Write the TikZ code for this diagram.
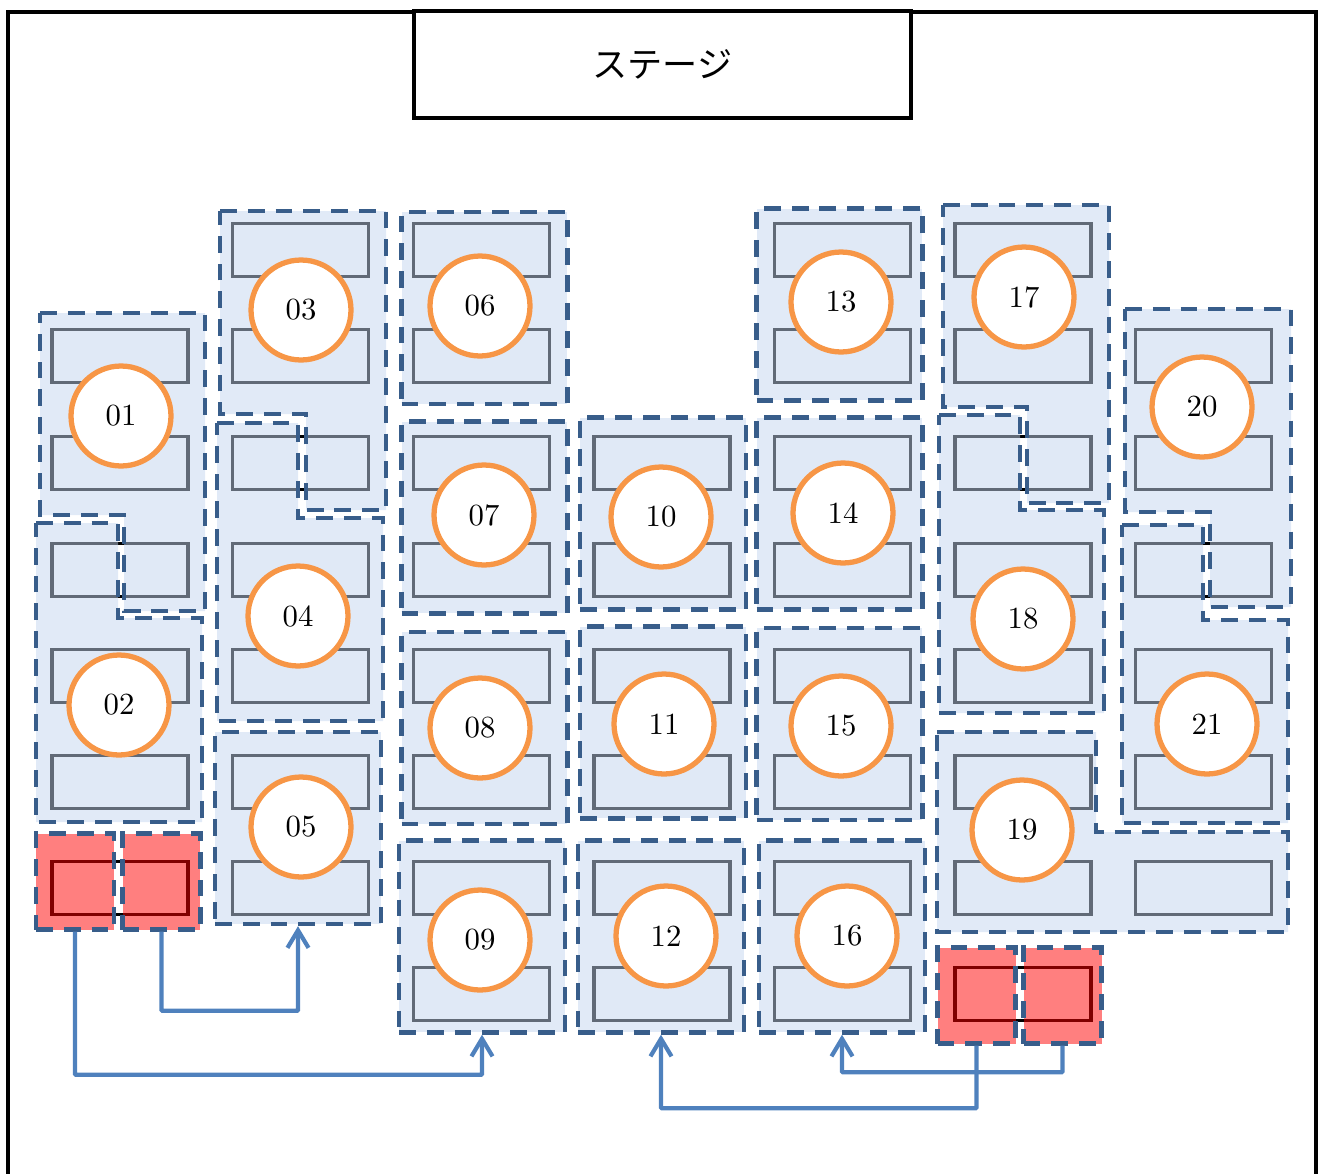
\documentclass[tikz,border=0pt]{standalone}
\usepackage{fontspec}
\newfontfamily\cjk{Noto Sans CJK JP}
\newfontfamily\seatfont[Scale=1.75]{lmroman10-regular.otf}
\usetikzlibrary{arrows.meta}

\definecolor{zoneblue}{HTML}{C3D5EF}
\definecolor{zoneline}{HTML}{385D8A}
\definecolor{ringorange}{HTML}{F79646}
\definecolor{linkblue}{HTML}{4F81BD}

\tikzset{
	seatbox/.style={rectangle, draw=black, fill=white, line width=1.8pt,
		minimum width=2.72cm, minimum height=1.05cm, inner sep=0pt},
	zone/.style={draw=zoneline, fill=zoneblue, fill opacity=.5, line width=2.5pt,
		dash pattern=on 9.6pt off 6.2pt},
	redzone/.style={zone, fill=red},
	zonebox/.style={rectangle, inner sep=0pt, minimum width=3.32cm, minimum height=3.84cm},
	redbox/.style={rectangle, inner sep=0pt, minimum width=1.56cm, minimum height=1.92cm},
	ring/.style={circle, draw=ringorange, fill=white, line width=3pt,
		minimum size=2cm, inner sep=0pt, font=\seatfont},
	stagebox/.style={rectangle, draw=black, fill=white, line width=1.9pt,
		minimum width=9.94cm, minimum height=2.14cm, inner sep=0pt,
		font=\fontsize{20}{24}\selectfont\cjk},
	link/.style={draw=linkblue, line width=2.4pt, rounded corners=.5pt,
		-{Straight Barb[length=10pt,width=12pt]}}
}

\begin{document}
\begin{tikzpicture}[x=0.02cm, y=-0.02cm]

\useasboundingbox (0,0) rectangle (1318,1173);

% frame and stage
\draw [line width=2.4pt] (8,1180) -- (8,12) -- (1316,12) -- (1316,1180);
\node [stagebox] (stage) at (662.5,64.5) {ステージ};

% seats, column by column
\foreach \c/\sx in {1/120, 7/1203.5}
	\foreach \sy in {356,463,570,676,782,888}
		\node [seatbox] (seat\c-\sy) at (\sx,\sy) {};
\foreach \sy in {250,356,463,570,676,782,888}
	\node [seatbox] (seat2-\sy) at (300.5,\sy) {};
\foreach \c/\sx in {3/481.5, 5/842.5, 6/1023}
	\foreach \sy in {250,356,463,570,676,782,888,994}
		\node [seatbox] (seat\c-\sy) at (\sx,\sy) {};
\foreach \sy in {463,570,676,782,888,994}
	\node [seatbox] (seat4-\sy) at (662,\sy) {};

% zones with a notch
\draw [zone] (40,313) -- (205,313) -- (205,611) -- (124,611) -- (124,515) -- (40,515) -- cycle;
\draw [zone] (36,523) -- (118,523) -- (118,618) -- (202,618) -- (202,822) -- (36,822) -- cycle;
\draw [zone] (220,211) -- (386,211) -- (386,510) -- (306,510) -- (306,414) -- (220,414) -- cycle;
\draw [zone] (217,423) -- (298,423) -- (298,518) -- (383,518) -- (383,721) -- (217,721) -- cycle;
\draw [zone] (943,205) -- (1109,205) -- (1109,503) -- (1027,503) -- (1027,407) -- (943,407) -- cycle;
\draw [zone] (939,415) -- (1020,415) -- (1020,510) -- (1104,510) -- (1104,713) -- (939,713) -- cycle;
\draw [zone] (1125,309) -- (1291,309) -- (1291,607) -- (1210,607) -- (1210,512) -- (1125,512) -- cycle;
\draw [zone] (1122,525) -- (1203,525) -- (1203,620) -- (1288,620) -- (1288,823) -- (1122,823) -- cycle;
\draw [zone] (937,732) -- (1096,732) -- (1096,832) -- (1288,832) -- (1288,932) -- (937,932) -- cycle;

% plain zones
\foreach \zn/\zx/\zy in {05/298/828, 06/484.5/308, 07/484.5/517.5, 08/484.5/728,
		09/482/936.5, 10/663/513.5, 11/663/722.5, 12/661/936.5, 13/839.5/304.5,
		14/839.5/513.5, 15/839.5/724, 16/842/936.5}
	\node [zone, zonebox] (zone\zn) at (\zx,\zy) {};

% red zones
\node [redzone, redbox] (redA) at (75,881.5) {};
\node [redzone, redbox] (redB) at (161.5,881.5) {};
\node [redzone, redbox] (redC) at (976.5,995.5) {};
\node [redzone, redbox] (redD) at (1062.5,995.5) {};

% numbered rings
\foreach \rn/\rx/\ry in {01/121/416, 02/119/705, 03/301/310, 04/298/616, 05/301/827,
		06/480/306, 07/484/515, 08/480/728, 09/480/940, 10/661/517, 11/664/724,
		12/666/936, 13/841/302, 14/843/513, 15/841/726, 16/847/936, 17/1024/297,
		18/1023/619, 19/1022/830, 20/1202/407, 21/1207/724}
	\node [ring] (ring\rn) at (\rx,\ry) {\rn};

% links
\draw [link] (redA.south) -- ++(0,143) -| (zone09.south);
\draw [link] (redB.south) -- ++(0,79) -| (zone05.south);
\draw [link] (redC.south) -- ++(0,62.5) -| (zone12.south);
\draw [link] (redD.south) -- ++(0,26.5) -| (zone16.south);

\end{tikzpicture}
\end{document}
